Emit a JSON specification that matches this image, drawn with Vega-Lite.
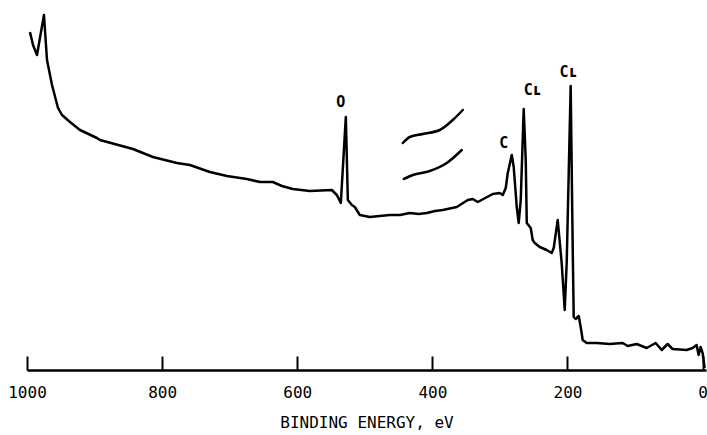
{
  "$schema": "https://vega.github.io/schema/vega-lite/v6.json",
  "width": 679,
  "height": 360,
  "autosize": "none",
  "padding": {"left": 27, "top": 10, "right": 1, "bottom": 65},
  "background": "white",
  "config": {"view": {"stroke": null}},
  "datasets": {
    "spectrum": [
      {"ev": 995.6, "i": 338},
      {"ev": 991.1, "i": 325},
      {"ev": 985.2, "i": 315},
      {"ev": 974.9, "i": 355},
      {"ev": 970.4, "i": 310},
      {"ev": 963.0, "i": 285},
      {"ev": 954.1, "i": 262},
      {"ev": 948.2, "i": 255},
      {"ev": 936.4, "i": 248},
      {"ev": 921.6, "i": 240},
      {"ev": 896.5, "i": 232},
      {"ev": 892.0, "i": 230},
      {"ev": 843.2, "i": 221},
      {"ev": 813.6, "i": 213},
      {"ev": 778.1, "i": 207},
      {"ev": 758.9, "i": 205},
      {"ev": 729.3, "i": 198},
      {"ev": 704.1, "i": 194},
      {"ev": 674.6, "i": 191},
      {"ev": 655.3, "i": 188},
      {"ev": 636.1, "i": 188},
      {"ev": 622.8, "i": 184},
      {"ev": 606.5, "i": 181},
      {"ev": 581.4, "i": 179},
      {"ev": 548.8, "i": 180},
      {"ev": 541.4, "i": 175},
      {"ev": 535.5, "i": 167},
      {"ev": 528.1, "i": 253},
      {"ev": 525.1, "i": 170},
      {"ev": 519.2, "i": 165},
      {"ev": 514.8, "i": 163},
      {"ev": 507.4, "i": 155},
      {"ev": 492.6, "i": 153},
      {"ev": 478.0, "i": 154},
      {"ev": 463.0, "i": 155},
      {"ev": 448.0, "i": 155},
      {"ev": 433.4, "i": 157},
      {"ev": 420.0, "i": 156},
      {"ev": 408.3, "i": 157},
      {"ev": 396.0, "i": 159},
      {"ev": 384.6, "i": 160},
      {"ev": 363.9, "i": 163},
      {"ev": 347.6, "i": 170},
      {"ev": 340.2, "i": 171},
      {"ev": 332.8, "i": 168},
      {"ev": 310.6, "i": 176},
      {"ev": 300.3, "i": 177},
      {"ev": 295.8, "i": 175},
      {"ev": 291.4, "i": 182},
      {"ev": 288.4, "i": 197},
      {"ev": 282.5, "i": 215},
      {"ev": 279.6, "i": 203},
      {"ev": 275.1, "i": 163},
      {"ev": 272.2, "i": 147},
      {"ev": 269.2, "i": 170},
      {"ev": 264.8, "i": 261},
      {"ev": 261.8, "i": 210},
      {"ev": 260.3, "i": 147},
      {"ev": 254.4, "i": 142},
      {"ev": 251.5, "i": 130},
      {"ev": 248.5, "i": 127},
      {"ev": 241.1, "i": 123},
      {"ev": 230.8, "i": 120},
      {"ev": 223.4, "i": 117},
      {"ev": 220.4, "i": 122},
      {"ev": 214.5, "i": 150},
      {"ev": 208.6, "i": 107},
      {"ev": 204.1, "i": 60},
      {"ev": 201.2, "i": 107},
      {"ev": 195.3, "i": 284},
      {"ev": 192.3, "i": 123},
      {"ev": 190.8, "i": 53},
      {"ev": 187.9, "i": 51},
      {"ev": 183.4, "i": 54},
      {"ev": 180.5, "i": 43},
      {"ev": 177.5, "i": 30},
      {"ev": 171.6, "i": 27},
      {"ev": 156.8, "i": 27},
      {"ev": 137.6, "i": 26},
      {"ev": 118.3, "i": 27},
      {"ev": 110.9, "i": 24},
      {"ev": 97.6, "i": 26},
      {"ev": 82.8, "i": 22},
      {"ev": 69.5, "i": 27},
      {"ev": 60.6, "i": 20},
      {"ev": 51.8, "i": 26},
      {"ev": 44.4, "i": 21},
      {"ev": 23.7, "i": 20},
      {"ev": 14.8, "i": 22},
      {"ev": 8.9, "i": 25},
      {"ev": 5.9, "i": 15},
      {"ev": 3.0, "i": 23},
      {"ev": 0.0, "i": 17},
      {"ev": -3.0, "i": 2}
    ],
    "breaks": [
      {"ev": 443.8, "i": 227, "s": "upper"},
      {"ev": 433.4, "i": 233, "s": "upper"},
      {"ev": 414.2, "i": 236, "s": "upper"},
      {"ev": 389.1, "i": 240, "s": "upper"},
      {"ev": 369.8, "i": 250, "s": "upper"},
      {"ev": 355.0, "i": 260, "s": "upper"},
      {"ev": 442.3, "i": 191, "s": "lower"},
      {"ev": 429.0, "i": 195, "s": "lower"},
      {"ev": 403.8, "i": 199, "s": "lower"},
      {"ev": 378.7, "i": 207, "s": "lower"},
      {"ev": 356.5, "i": 220, "s": "lower"}
    ],
    "labels": [
      {"ev": 535.5, "i": 268, "t": "O"},
      {"ev": 294.4, "i": 227, "t": "C"},
      {"ev": 251.5, "i": 280, "t": "Cʟ"},
      {"ev": 198.3, "i": 298, "t": "Cʟ"}
    ]
  },
  "layer": [
    {
      "data": {"name": "spectrum"},
      "mark": {"type": "line", "color": "black", "strokeWidth": 2.5, "strokeJoin": "round", "clip": false},
      "encoding": {
        "x": {
          "field": "ev", "type": "quantitative",
          "scale": {"domain": [1000, -5], "nice": false, "zero": false},
          "axis": {
            "values": [1000, 800, 600, 400, 200, 0],
            "format": "d",
            "title": "BINDING ENERGY, eV",
            "titleFont": "DejaVu Sans Mono", "titleFontSize": 16, "titleFontWeight": "normal",
            "titleColor": "black", "titlePadding": 14,
            "labelFont": "DejaVu Sans Mono", "labelFontSize": 16, "labelColor": "black",
            "labelPadding": 28, "labelFlush": false,
            "domainColor": "black", "domainWidth": 2.5,
            "tickColor": "black", "tickWidth": 2, "tickSize": -14,
            "grid": false
          }
        },
        "y": {
          "field": "i", "type": "quantitative",
          "scale": {"domain": [0, 360], "nice": false},
          "axis": null
        }
      }
    },
    {
      "data": {"name": "breaks"},
      "mark": {"type": "line", "color": "black", "strokeWidth": 2.5, "strokeCap": "round", "interpolate": "monotone"},
      "encoding": {
        "x": {"field": "ev", "type": "quantitative"},
        "y": {"field": "i", "type": "quantitative"},
        "detail": {"field": "s"}
      }
    },
    {
      "data": {"name": "labels"},
      "mark": {"type": "text", "font": "DejaVu Sans Mono", "fontSize": 15, "fontWeight": "bold", "color": "black", "baseline": "middle", "align": "center"},
      "encoding": {
        "x": {"field": "ev", "type": "quantitative"},
        "y": {"field": "i", "type": "quantitative"},
        "text": {"field": "t"}
      }
    }
  ]
}
